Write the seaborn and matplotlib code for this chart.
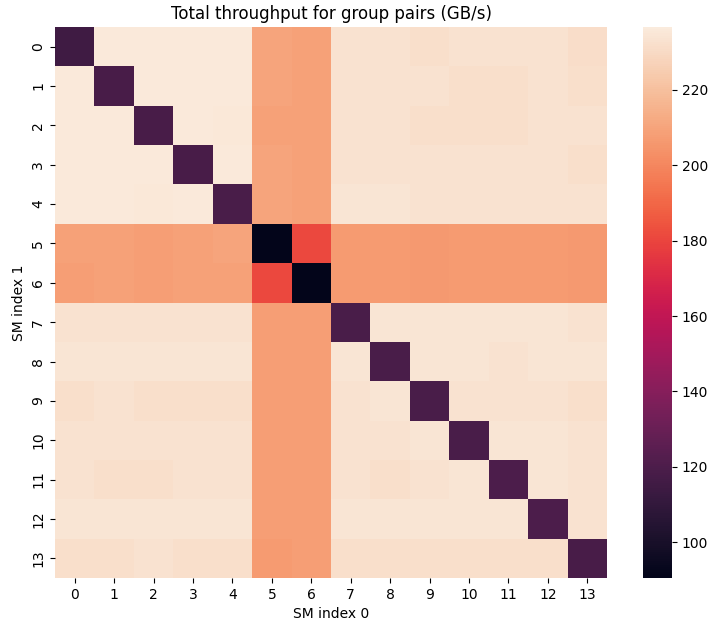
import numpy as np
import matplotlib
matplotlib.use("Agg")
import matplotlib.pyplot as plt
import seaborn as sns

# Total throughput (GB/s) for each pair of SM groups
labels = list(range(14))
row_0 = [115, 236, 236, 236, 236, 210, 209, 233, 233, 232, 233, 233, 233, 231]
row_1 = [236, 118, 236, 236, 236, 210, 209, 233, 233, 233, 232, 232, 233, 232]
row_2 = [236, 236, 118, 236, 235, 209, 209, 233, 233, 232, 232, 232, 233, 233]
row_3 = [236, 236, 236, 118, 236, 210, 209, 233, 233, 233, 233, 233, 233, 232]
row_4 = [236, 236, 235, 236, 119, 210, 209, 234, 234, 233, 233, 233, 233, 233]
row_5 = [209, 209, 208, 209, 210, 90.5, 181, 207, 207, 206, 207, 207, 207, 206]
row_6 = [208, 209, 208, 209, 209, 181, 90.5, 207, 207, 206, 207, 207, 207, 206]
row_7 = [233, 233, 233, 233, 233, 208, 208, 119, 234, 234, 234, 234, 234, 233]
row_8 = [234, 234, 234, 234, 234, 208, 208, 234, 119, 234, 234, 233, 234, 234]
row_9 = [232, 233, 232, 232, 232, 208, 208, 233, 234, 119, 233, 233, 233, 232]
row_10 = [233, 233, 233, 233, 233, 208, 208, 233, 233, 234, 119, 234, 234, 233]
row_11 = [233, 232, 232, 233, 233, 208, 208, 233, 232, 233, 234, 120, 234, 233]
row_12 = [234, 234, 234, 234, 234, 208, 208, 234, 234, 234, 234, 234, 120, 233]
row_13 = [232, 232, 233, 232, 232, 207, 208, 232, 232, 232, 232, 232, 232, 118]

data = np.array([row_0, row_1, row_2, row_3, row_4, row_5, row_6,
                 row_7, row_8, row_9, row_10, row_11, row_12, row_13])

fig = plt.figure(figsize=(7.09, 6.24), dpi=100)
ax = fig.add_axes([0.0776, 0.0737, 0.7786, 0.883])
cax = fig.add_axes([0.907, 0.0737, 0.041, 0.883])
sns.heatmap(data, ax=ax, cbar_ax=cax, cmap="rocket", vmin=90.5, vmax=236.7,
            xticklabels=labels, yticklabels=labels,
            cbar_kws={"ticks": [100, 120, 140, 160, 180, 200, 220]})
ax.set_title("Total throughput for group pairs (GB/s)")
ax.set_xlabel("SM index 0")
ax.set_ylabel("SM index 1")

plt.savefig("out.png", dpi=100)
